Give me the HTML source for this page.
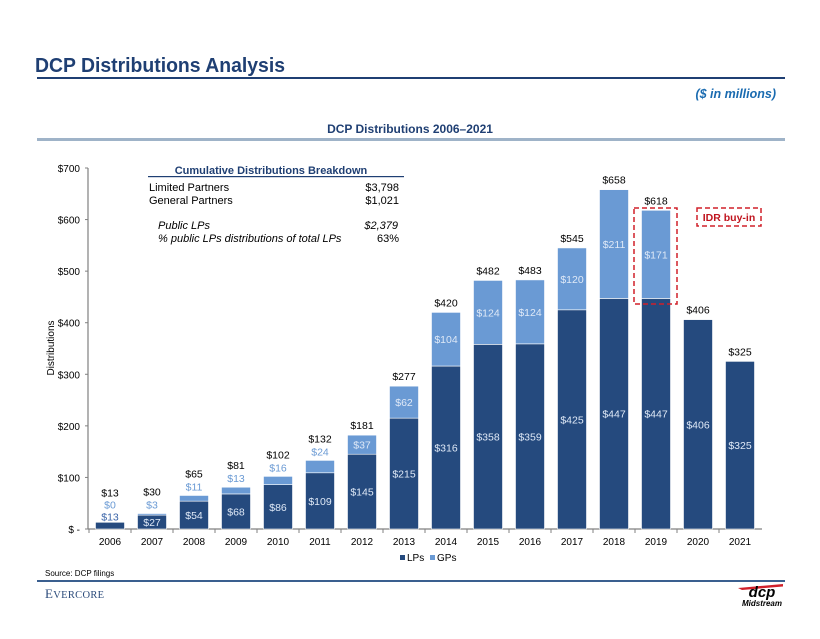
<!DOCTYPE html>
<html><head><meta charset="utf-8"><style>
body{margin:0;background:#fff;font-family:"Liberation Sans",Arial,sans-serif;}
svg text{font-family:"Liberation Sans",Arial,sans-serif;}
</style></head><body>
<svg width="820" height="634" viewBox="0 0 820 634" xmlns="http://www.w3.org/2000/svg">
<text x="35" y="72" font-size="20" font-weight="bold" fill="#1f3f73" textLength="250" lengthAdjust="spacingAndGlyphs">DCP Distributions Analysis</text>
<rect x="37" y="77" width="748" height="2" fill="#1f3f73"/>
<text x="776" y="98" font-size="12.5" font-weight="bold" font-style="italic" fill="#1a6bb0" text-anchor="end">($ in millions)</text>
<text x="410" y="133" font-size="12" font-weight="bold" fill="#1f3f73" text-anchor="middle">DCP Distributions 2006–2021</text>
<rect x="37" y="138" width="748" height="3" fill="#9fb3c8"/>

<g id="chart"></g>

<g>
<text x="271" y="174" font-size="11" font-weight="bold" fill="#1f3f73" text-anchor="middle">Cumulative Distributions Breakdown</text>
<rect x="148" y="176" width="256" height="1.2" fill="#1f3f73"/>
<text x="149" y="191" font-size="11" fill="#000">Limited Partners</text>
<text x="399" y="191" font-size="11" fill="#000" text-anchor="end">$3,798</text>
<text x="149" y="204" font-size="11" fill="#000">General Partners</text>
<text x="399" y="204" font-size="11" fill="#000" text-anchor="end">$1,021</text>
<text x="158" y="229" font-size="11" font-style="italic" fill="#000">Public LPs</text>
<text x="398" y="229" font-size="11" font-style="italic" fill="#000" text-anchor="end">$2,379</text>
<text x="158" y="242" font-size="11" font-style="italic" fill="#000">% public LPs distributions of total LPs</text>
<text x="399" y="242" font-size="11" fill="#000" text-anchor="end">63%</text>
</g>

<rect x="634" y="208" width="43" height="96" fill="none" stroke="#d0202a" stroke-width="1.5" stroke-dasharray="5,3"/>
<rect x="697" y="208" width="64" height="18" fill="none" stroke="#d0202a" stroke-width="1.5" stroke-dasharray="5,3"/>
<text x="729" y="221" font-size="10.5" font-weight="bold" fill="#c0141e" text-anchor="middle">IDR buy-in</text>

<g>
<rect x="400" y="555" width="5" height="5" fill="#254a7e"/>
<text x="407" y="561" font-size="10">LPs</text>
<rect x="430" y="555" width="5" height="5" fill="#6a9ad4"/>
<text x="437" y="561" font-size="10">GPs</text>
</g>

<text x="45" y="576" font-size="8" fill="#000">Source: DCP filings</text>
<rect x="37" y="580" width="748" height="2" fill="#3a5f8f"/>
<text x="45" y="598" font-size="13" fill="#2a4a7a" letter-spacing="0.3" style="font-family:'Liberation Serif',serif">E<tspan font-size="10.5">VERCORE</tspan></text>
<g>
<path d="M738 588 L783 584 L783 586.5 L742 590Z" fill="#d0202a"/>
<text x="762" y="597" font-size="15" font-weight="bold" font-style="italic" text-anchor="middle" fill="#000">dcp</text>
<text x="762" y="606" font-size="8" font-weight="bold" font-style="italic" text-anchor="middle" fill="#000">Midstream</text>
</g>
</svg>
<script>
const years=["2006","2007","2008","2009","2010","2011","2012","2013","2014","2015","2016","2017","2018","2019","2020","2021"];
const lpValues=[13,27,54,68,86,109,145,215,316,358,359,425,447,447,406,325];
const gpValues=[0,3,11,13,16,24,37,62,104,124,124,120,211,171,0,0];
const totalValues=[13,30,65,81,102,132,181,277,420,482,483,545,658,618,406,325];
const yTicks=[0,100,200,300,400,500,600,700];
const NS="http://www.w3.org/2000/svg";
const g=document.getElementById("chart");
const y0=529,pxPer=361/700,x0=89,band=42,bw=29;
function yS(v){return y0-v*pxPer;}
function xC(i){return x0+band*i+band/2;}
function mk(tag,attrs,txt){const e=document.createElementNS(NS,tag);for(const k in attrs)e.setAttribute(k,attrs[k]);if(txt!=null)e.textContent=txt;g.appendChild(e);return e;}
let e=mk("line",{x1:88,y1:168,x2:88,y2:529,stroke:"#808080","stroke-width":1.2});

e=mk("line",{x1:88,y1:529,x2:762,y2:529,stroke:"#808080","stroke-width":1.2});

yTicks.forEach(v=>{
 const t=mk("line",{x1:85,x2:88,y1:yS(v),y2:yS(v),stroke:"#808080"});
 
 const l=mk("text",{x:80,y:yS(v)+4,"font-size":10,"text-anchor":"end"},v===0?"$ -":"$"+v);
 
});
e=mk("text",{x:0,y:0,"font-size":10,"text-anchor":"middle",transform:"translate(54,348) rotate(-90)"},"Distributions");

years.forEach((yr,i)=>{
 const cx=xC(i),lp=lpValues[i],gp=gpValues[i],tot=lp+gp,bx=cx-bw/2;
 const tk=mk("line",{x1:x0+band*i,x2:x0+band*i,y1:529,y2:533,stroke:"#808080"});
 
 const xl=mk("text",{x:cx,y:545,"font-size":10,"text-anchor":"middle"},yr);
 
 const r1=mk("rect",{x:bx,y:yS(lp),width:bw,height:lp*pxPer,fill:"#254a7e",stroke:"#fff","stroke-width":0.6});
 
 if(gp>0){const r2=mk("rect",{x:bx,y:yS(tot),width:bw,height:gp*pxPer,fill:"#6a9ad4",stroke:"#fff","stroke-width":0.6});
 }
 const big=gp>=30, small=lp<20;
 let topY=yS(tot)-6;
 if(gp>0||i<2){
  if(big){const gl=mk("text",{x:cx,y:yS(lp+gp/2)+4,"font-size":10.5,"text-anchor":"middle",fill:"#dfe9f7"},"$"+gp);
   }
  else{let ly=small?yS(tot)-14:yS(tot)-5;
   const gl=mk("text",{x:cx,y:ly,"font-size":10.5,"text-anchor":"middle",fill:"#6a9ad4"},"$"+gp);
   
   topY=ly-13;}
 }
 if(small){const ll=mk("text",{x:cx,y:yS(tot)-2,"font-size":10.5,"text-anchor":"middle",fill:"#3a64a8"},"$"+lp);
  topY=yS(tot)-26;}
 else{const ll=mk("text",{x:cx,y:yS(lp/2)+4,"font-size":10.5,"text-anchor":"middle",fill:"#dfe9f7"},"$"+lp);
  }
 const tl=mk("text",{x:cx,y:topY,"font-size":10.5,"text-anchor":"middle",fill:"#000"},"$"+totalValues[i]);
 
});
</script>
</body></html>
